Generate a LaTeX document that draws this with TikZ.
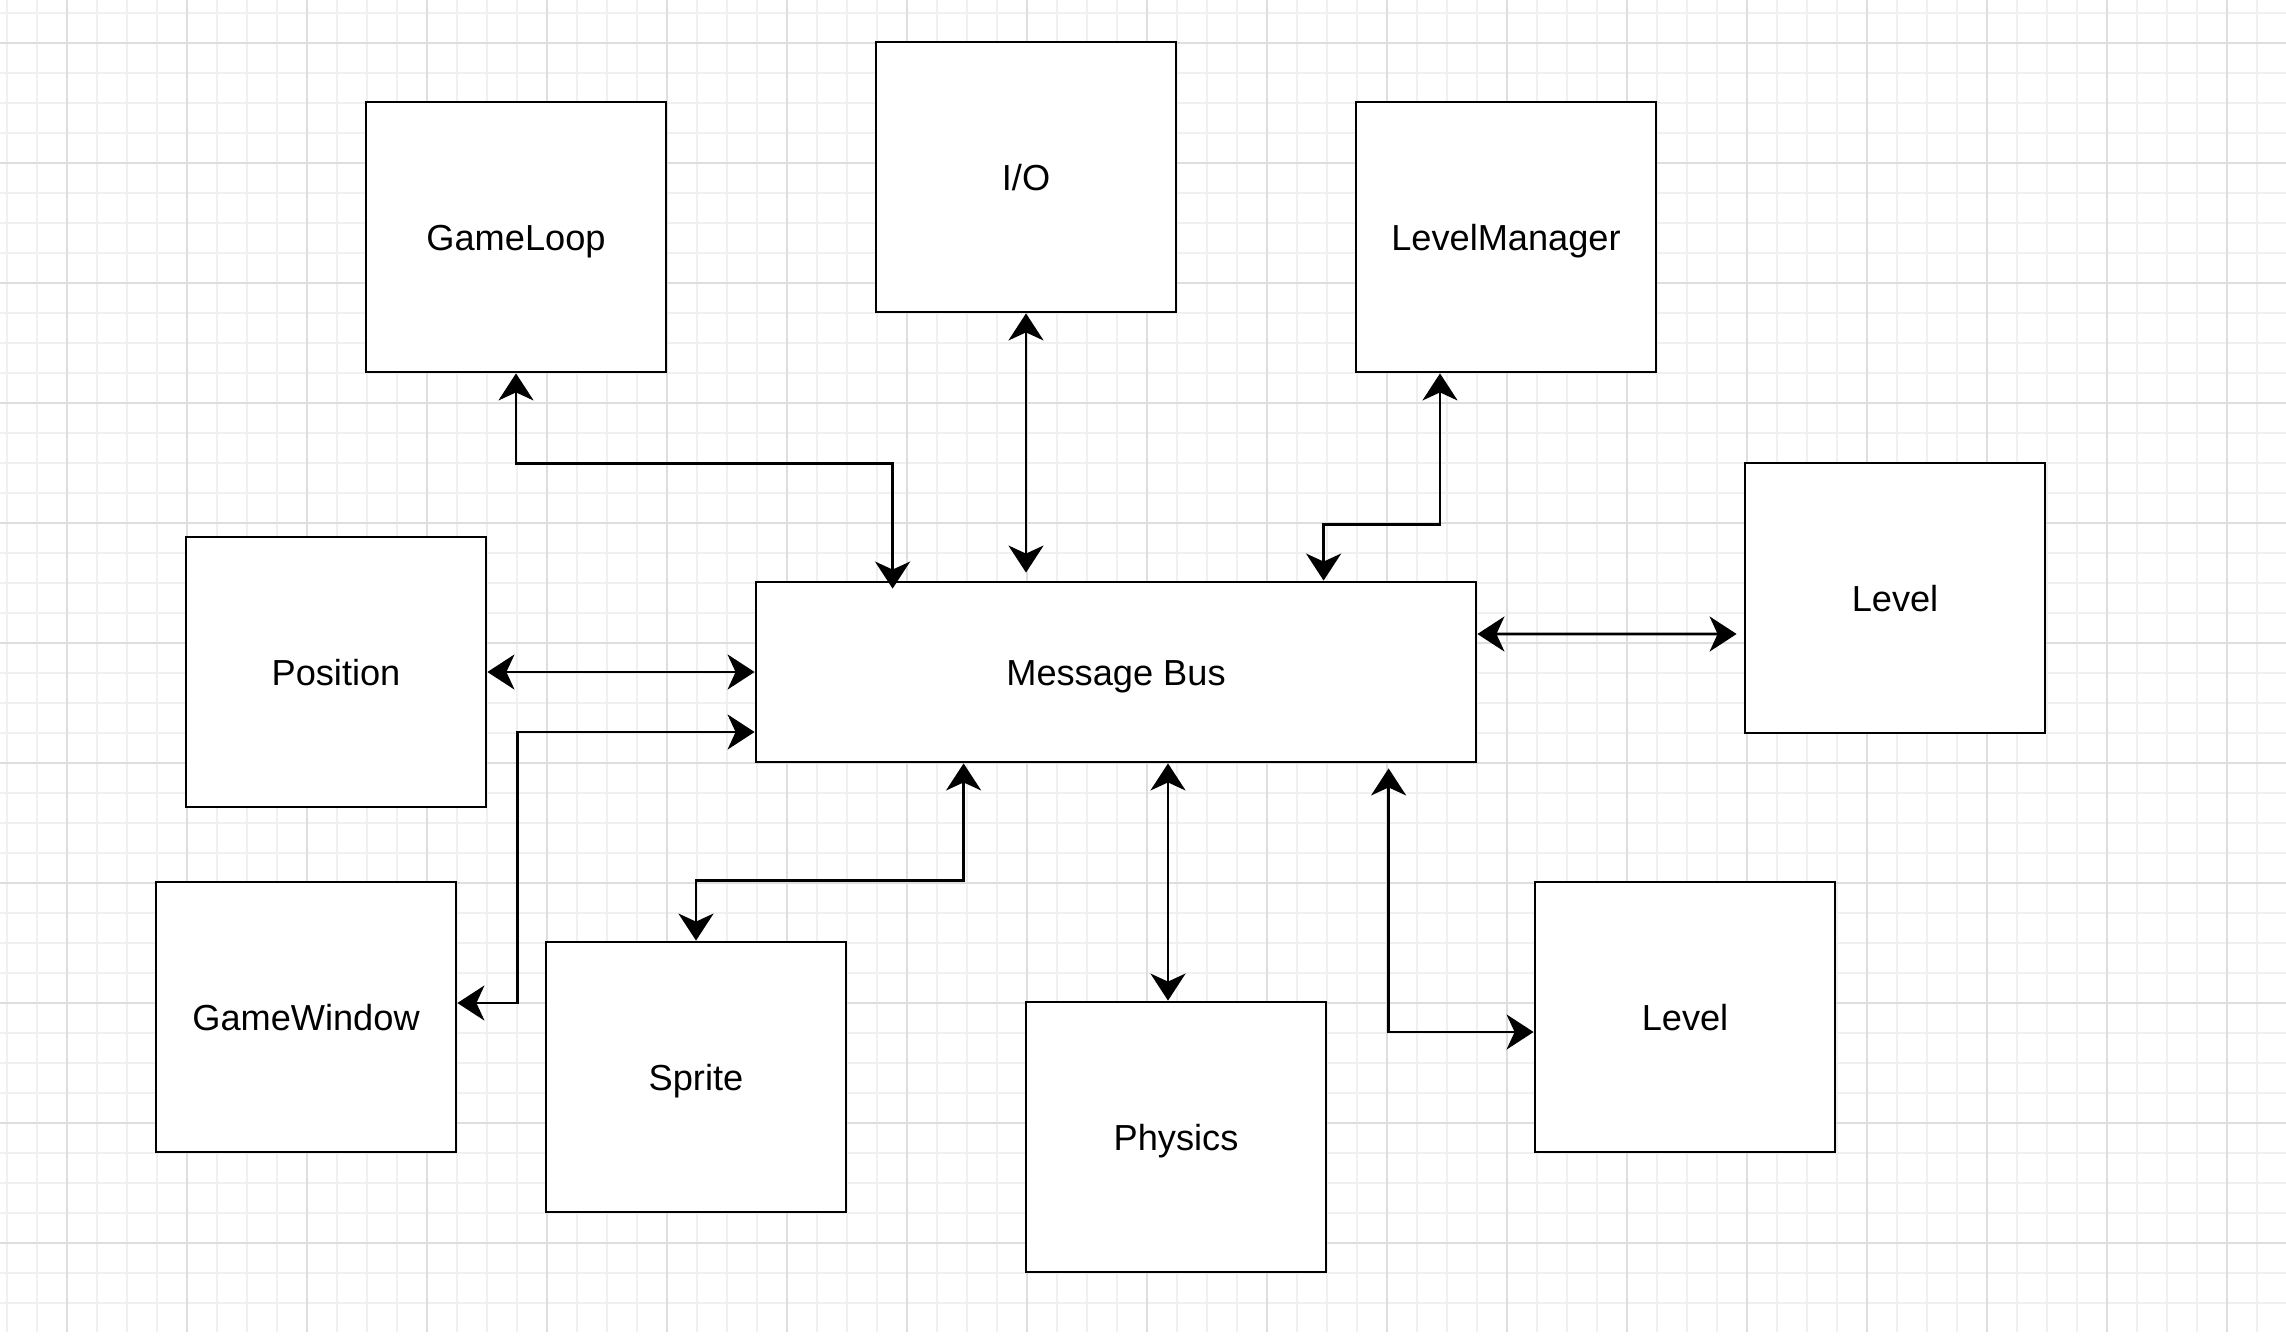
\documentclass[tikz,border=0pt]{standalone}
\usepackage{fontspec}
\setmainfont{Liberation Sans}
\usetikzlibrary{positioning, arrows.meta}

\begin{document}
\begin{tikzpicture}[
	block/.style={draw, line width=0.8pt, fill=white, minimum width=3cm, minimum height=2.7cm, text height=7.9pt, text depth=0pt, font=\fontsize{10.3}{12}\selectfont},
	link/.style={line width=0.8pt, {Stealth[length=0.27cm, width=0.35cm, inset=0.08cm]}-{Stealth[length=0.27cm, width=0.35cm, inset=0.08cm]}},
	gridminor/.style={draw=black!6, line width=0.4pt},
	gridmajor/.style={draw=black!13, line width=0.5pt}]
	\useasboundingbox (0, 0) rectangle (22.86, -13.36);

	\draw[gridminor, shift={(0.07, -0.13)}] (-0.07, 0.13) grid[step=0.3] (22.79, -13.19);
	\draw[gridmajor, shift={(0.67, -0.43)}] (-0.67, 0.43) grid[step=1.2] (22.19, -12.89);

	\node[block] (gl) at (5.16, -2.37) {GameLoop};
	\node[block] (io) at (10.26, -1.77) {I/O};
	\node[block] (lm) at (15.06, -2.37) {LevelManager};
	\node[block] (pos) at (3.36, -6.72) {Position};
	\node[block, minimum width=7.2cm, minimum height=1.8cm] (mb) at (11.16, -6.72) {Message Bus};
	\node[block] (lvr) at (18.95, -5.98) {Level};
	\node[block] (gw) at (3.06, -10.17) {GameWindow};
	\node[block] (sp) at (6.96, -10.77) {Sprite};
	\node[block] (ph) at (11.76, -11.37) {Physics};
	\node[block] (lvb) at (16.85, -10.17) {Level};

	\draw[link] (gl.south) -- ++(0, -0.9) -| ([xshift=1.38cm, yshift=-0.08cm]mb.north west);
	\draw[link] (io.south) -- ([yshift=0.08cm]io.south |- mb.north);
	\draw[link] ([xshift=-0.66cm]lm.south) -- ++(0, -1.51) -| ([xshift=5.69cm]mb.north west);
	\draw[link] (pos.east) -- (pos.east -| mb.west);
	\draw[link] ([yshift=0.14cm]gw.east) -- ++(0.6, 0) |- ([yshift=-0.6cm]mb.west);
	\draw[link] (sp.north) -- ++(0, 0.6) -| ([xshift=2.09cm]mb.south west);
	\draw[link] ([xshift=-0.08cm]ph.north) -- ([xshift=-0.08cm]ph.north |- mb.south);
	\draw[link] ([xshift=6.34cm, yshift=-0.05cm]mb.south west) |- ([yshift=-0.15cm]lvb.west);
	\draw[link] ([yshift=0.38cm]mb.east) -- ([xshift=-0.07cm, yshift=-0.36cm]lvr.west);

\end{tikzpicture}
\end{document}
